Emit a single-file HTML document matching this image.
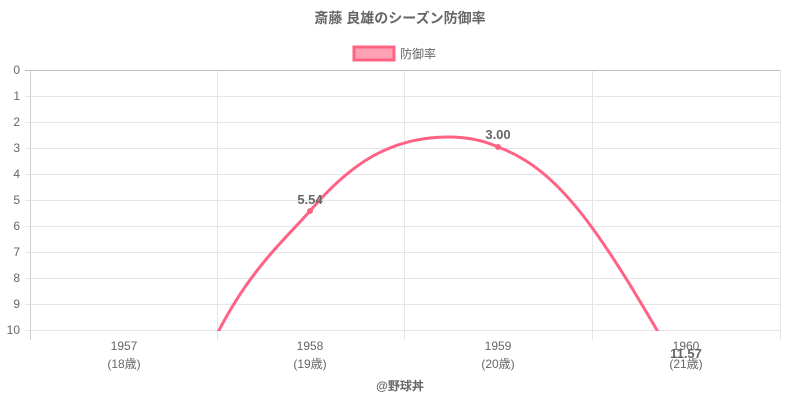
<!DOCTYPE html>
<html><head><meta charset="utf-8"><style>
body{margin:0;background:#fff}
svg text{font-family:"Liberation Sans","Noto Sans CJK JP",sans-serif}
</style></head><body>
<svg width="800" height="400" xmlns="http://www.w3.org/2000/svg">
<rect width="800" height="400" fill="#fff"/>
<text x="400" y="23" text-anchor="middle" font-size="14" font-weight="bold" fill="#666">斎藤 良雄のシーズン防御率</text>
<rect x="354" y="47" width="40" height="13" fill="#ffa1b5" stroke="#ff6384" stroke-width="3"/>
<text x="400" y="58" font-size="12" fill="#666">防御率</text>
<g stroke="#e5e5e5" stroke-width="1">
<line x1="25" y1="96.5" x2="780" y2="96.5"/><line x1="25" y1="122.5" x2="780" y2="122.5"/>
<line x1="25" y1="148.5" x2="780" y2="148.5"/><line x1="25" y1="174.5" x2="780" y2="174.5"/>
<line x1="25" y1="200.5" x2="780" y2="200.5"/><line x1="25" y1="226.5" x2="780" y2="226.5"/>
<line x1="25" y1="252.5" x2="780" y2="252.5"/><line x1="25" y1="278.5" x2="780" y2="278.5"/>
<line x1="25" y1="304.5" x2="780" y2="304.5"/><line x1="25" y1="330.5" x2="780" y2="330.5"/>
<line x1="217.5" y1="70" x2="217.5" y2="340"/><line x1="404.5" y1="70" x2="404.5" y2="340"/>
<line x1="592.5" y1="70" x2="592.5" y2="340"/><line x1="780.5" y1="70" x2="780.5" y2="340"/>
</g>
<line x1="25" y1="70.5" x2="780" y2="70.5" stroke="#bbb"/>
<line x1="30.5" y1="70" x2="30.5" y2="340" stroke="#ccc"/>
<g font-size="12" fill="#666" text-anchor="end">
<text x="20" y="74">0</text><text x="20" y="100">1</text><text x="20" y="126">2</text><text x="20" y="152">3</text><text x="20" y="178">4</text><text x="20" y="204">5</text><text x="20" y="230">6</text><text x="20" y="256">7</text><text x="20" y="282">8</text><text x="20" y="308">9</text><text x="20" y="334">10</text>
</g>
<g font-size="12" fill="#666" text-anchor="middle">
<text x="124" y="350">1957</text><text x="124" y="368">(18歳)</text>
<text x="310" y="350">1958</text><text x="310" y="368">(19歳)</text>
<text x="498" y="350">1959</text><text x="498" y="368">(20歳)</text>
<text x="686" y="350">1960</text><text x="686" y="368">(21歳)</text>
</g>
<clipPath id="c"><rect x="30" y="70" width="750" height="261"/></clipPath>
<path clip-path="url(#c)" d="M196,380 C236,282 275,250 310,211 C345,170 385,137 448,137 C470,137 485,141 498,147 C560,170 600,230 680,370" fill="none" stroke="#ff6384" stroke-width="3"/>
<circle cx="310" cy="211" r="3" fill="#ff6384"/>
<circle cx="498" cy="147" r="3" fill="#ff6384"/>
<g font-size="13" font-weight="bold" fill="#666" text-anchor="middle">
<text x="310" y="204">5.54</text><text x="498" y="139">3.00</text><text x="686" y="358">11.57</text>
</g>
<text x="400" y="390" text-anchor="middle" font-size="12" font-weight="bold" fill="#666">@野球丼</text>
</svg>
</body></html>
